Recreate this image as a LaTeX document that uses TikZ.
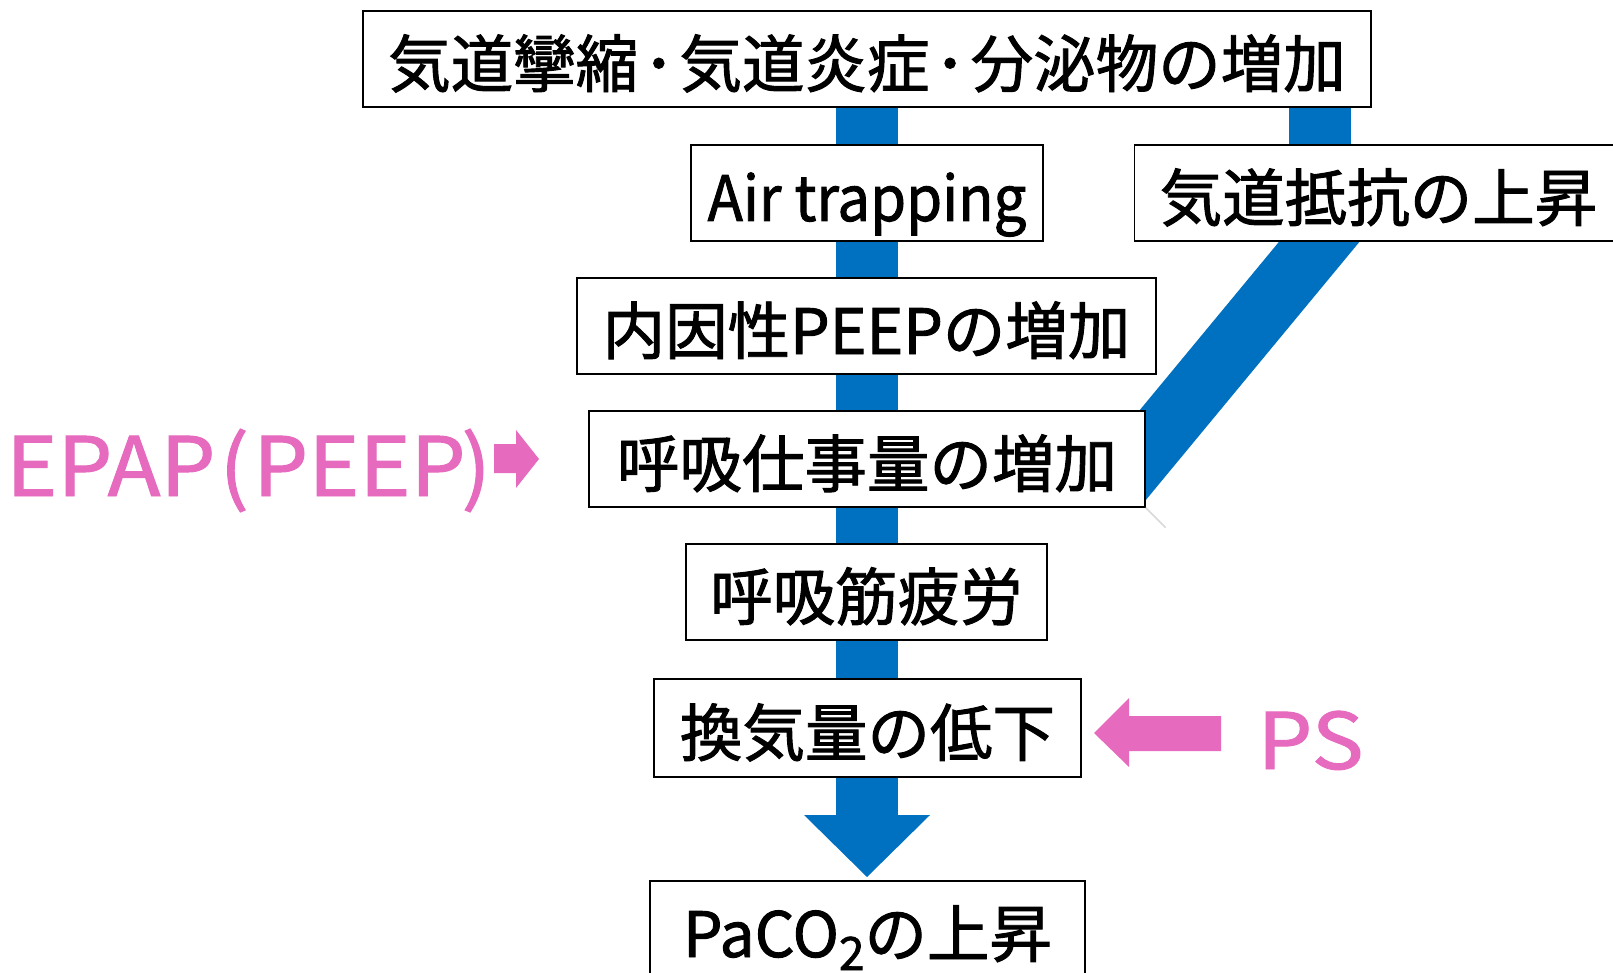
\documentclass[tikz,border=0pt]{standalone}
\usepackage{fontspec}
\usepackage{graphicx}
\setmainfont{Noto Sans CJK JP}
\newfontfamily\boxfont{Noto Sans CJK JP}[FakeBold=1.5]
\newfontfamily\pinkfont{Noto Sans CJK JP}[FakeBold=1.2]
\usetikzlibrary{calc}
\pgfdeclarelayer{background}
\pgfsetlayers{background,main}
\definecolor{barblue}{RGB}{0,112,192}
\definecolor{pinkc}{RGB}{230,106,190}
\begin{document}
\begin{tikzpicture}[x=1pt,y=-1pt,
  box/.style={draw=black, line width=1.4pt, fill=white, inner sep=0pt, text height=60pt, text depth=4pt, font=\boxfont\fontsize{62.5}{70}\selectfont},
  bar/.style={draw=barblue, line width=62pt},
  pinktext/.style={text=pinkc, inner sep=0pt, anchor=base west},
  pinkarrow/.style={fill=pinkc}]
\useasboundingbox (0,0) rectangle (1613,973);
% boxes
\node[box, minimum width=1008pt, minimum height=96pt] (b1) at (867,59) {気道攣縮\kern5pt･\kern5pt 気道炎症\kern5pt･\kern5pt 分泌物の増加};
\node[box, minimum width=352pt, minimum height=96pt] (air) at (867,193) {\scalebox{0.93}[1]{Air trapping}};
\node[box, anchor=west, minimum height=96pt, inner xsep=25pt, text width=470pt] (res) at (1134,193) {気道抵抗の上昇};
\node[box, minimum width=579pt, minimum height=96pt] (peep) at (866.5,326) {内因性PEEPの増加};
\node[box, minimum width=556pt, minimum height=96pt] (wob) at (867,459) {呼吸仕事量の増加};
\node[box, minimum width=361pt, minimum height=96pt] (fat) at (866.5,592) {呼吸筋疲労};
\node[box, minimum width=427pt, minimum height=98pt] (vent) at (867.5,728) {換気量の低下};
\node[box, minimum width=435pt, minimum height=96pt] (paco) at (867.5,929) {PaCO\raisebox{-13pt}{\fontsize{46}{48}\selectfont 2}の上昇};
% coordinates
\coordinate (hb) at (867,815);
\coordinate (tip) at (867,877);
\coordinate (rx) at (1320,0);
\coordinate (d1) at (1353,201);
\coordinate (d2) at (1118,485);
\begin{pgfonlayer}{background}
  \draw[bar] (b1.south) -- (hb);
  \draw[bar, shorten <=-4pt, shorten >=-4pt] (b1.south -| rx) -- (res.north -| rx);
  \draw[bar] (d1) -- (d2);
\end{pgfonlayer}
\fill[barblue] ($(hb)+(-63,0)$) -- ($(hb)+(63,0)$) -- (tip) -- cycle;
\draw[black!15, line width=1.5pt] (wob.south east) -- ++(20,20);
% pink annotations
\node[pinktext, font=\pinkfont\fontsize{82}{90}\selectfont] (epap) at (6,496) {\scalebox{1.06}[1]{EPAP\kern4pt(\kern4pt PEEP\kern-4pt)}};
\fill[pinkarrow] (494,444) -- (516,444) -- (516,430) -- (539,459) -- (516,488) -- (516,473) -- (494,473) -- cycle;
\node[pinktext, font=\pinkfont\fontsize{78}{80}\selectfont] (ps) at (1257,769) {\scalebox{1.12}[1]{PS}};
\fill[pinkarrow] (1221,716) -- (1129,716) -- (1129,698) -- (1094,733) -- (1129,767) -- (1129,751) -- (1221,751) -- cycle;
\end{tikzpicture}
\end{document}
